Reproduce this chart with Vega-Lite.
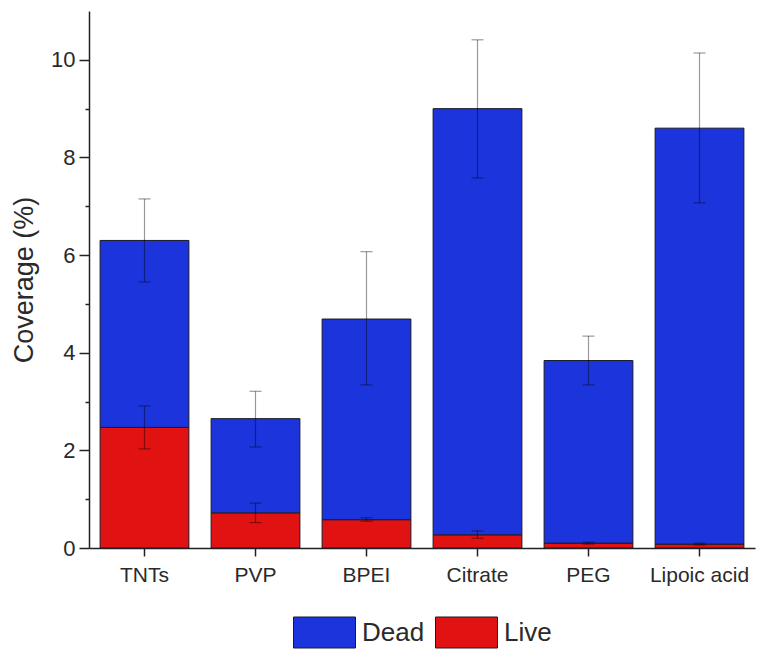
{
  "$schema": "https://vega.github.io/schema/vega-lite/v6.json",
  "width": 666,
  "height": 537,
  "autosize": "none",
  "padding": {"left": 89, "top": 11, "right": 5, "bottom": 105},
  "config": {
    "view": {"stroke": null},
    "font": "Liberation Sans",
    "axis": {"grid": false, "domainColor": "#222", "tickColor": "#222", "labelColor": "#2a2a2a", "titleColor": "#2a2a2a", "labelFont": "Liberation Sans", "titleFont": "Liberation Sans", "domainWidth": 1.5, "tickWidth": 1.5},
    "legend": {"layout": {"bottom": {"anchor": "middle"}}}
  },
  "datasets": {
    "bars": [
      {"sample": "TNTs", "type": "Live", "value": 2.47, "ord": 1},
      {"sample": "TNTs", "type": "Dead", "value": 3.83, "ord": 2},
      {"sample": "PVP", "type": "Live", "value": 0.72, "ord": 1},
      {"sample": "PVP", "type": "Dead", "value": 1.93, "ord": 2},
      {"sample": "BPEI", "type": "Live", "value": 0.58, "ord": 1},
      {"sample": "BPEI", "type": "Dead", "value": 4.11, "ord": 2},
      {"sample": "Citrate", "type": "Live", "value": 0.27, "ord": 1},
      {"sample": "Citrate", "type": "Dead", "value": 8.73, "ord": 2},
      {"sample": "PEG", "type": "Live", "value": 0.1, "ord": 1},
      {"sample": "PEG", "type": "Dead", "value": 3.74, "ord": 2},
      {"sample": "Lipoic acid", "type": "Live", "value": 0.08, "ord": 1},
      {"sample": "Lipoic acid", "type": "Dead", "value": 8.52, "ord": 2}
    ],
    "errs": [
      {"sample": "TNTs", "type": "Live", "lo": 2.03, "hi": 2.91},
      {"sample": "TNTs", "type": "Dead", "lo": 5.45, "hi": 7.15},
      {"sample": "PVP", "type": "Live", "lo": 0.52, "hi": 0.92},
      {"sample": "PVP", "type": "Dead", "lo": 2.07, "hi": 3.21},
      {"sample": "BPEI", "type": "Live", "lo": 0.55, "hi": 0.62},
      {"sample": "BPEI", "type": "Dead", "lo": 3.34, "hi": 6.07},
      {"sample": "Citrate", "type": "Live", "lo": 0.2, "hi": 0.35},
      {"sample": "Citrate", "type": "Dead", "lo": 7.58, "hi": 10.41},
      {"sample": "PEG", "type": "Live", "lo": 0.08, "hi": 0.12},
      {"sample": "PEG", "type": "Dead", "lo": 3.34, "hi": 4.34},
      {"sample": "Lipoic acid", "type": "Live", "lo": 0.06, "hi": 0.1},
      {"sample": "Lipoic acid", "type": "Dead", "lo": 7.07, "hi": 10.14}
    ]
  },
  "layer": [
    {
      "data": {"name": "bars"},
      "mark": {"type": "bar", "stroke": "#1a1a2a", "strokeWidth": 1},
      "encoding": {
        "x": {
          "field": "sample", "type": "nominal",
          "sort": ["TNTs", "PVP", "BPEI", "Citrate", "PEG", "Lipoic acid"],
          "scale": {"paddingInner": 0.2, "paddingOuter": 0.1},
          "axis": {"title": null, "labelAngle": 0, "labelFontSize": 21, "tickSize": 8, "labelPadding": 8}
        },
        "y": {
          "field": "value", "type": "quantitative", "stack": "zero",
          "scale": {"domain": [0, 11], "nice": false},
          "axis": {
            "title": "Coverage (%)", "titleFontSize": 27, "titleFontWeight": "normal", "titlePadding": 12,
            "values": [0, 1, 2, 3, 4, 5, 6, 7, 8, 9, 10],
            "labelExpr": "datum.value % 2 ? '' : datum.label",
            "labelFontSize": 22,
            "tickSize": {"condition": {"test": "datum.value % 2", "value": 4}, "value": 10},
            "labelPadding": 4
          }
        },
        "color": {
          "field": "type", "type": "nominal",
          "scale": {"domain": ["Dead", "Live"], "range": ["#1c34dc", "#e01212"]},
          "legend": {
            "title": null, "orient": "bottom", "direction": "horizontal",
            "labelFontSize": 26, "labelColor": "#2a2a2a", "offset": 16,
            "symbolType": "M-1,-0.5L1,-0.5L1,0.5L-1,0.5Z",
            "symbolSize": 3844, "symbolStrokeColor": "#1a1a2a", "symbolStrokeWidth": 1,
            "symbolOpacity": 1, "columnPadding": 8, "labelOffset": 6
          }
        },
        "order": {"field": "ord", "type": "quantitative"}
      }
    },
    {
      "data": {"name": "errs"},
      "mark": {"type": "rule", "color": "#000", "opacity": 0.4, "strokeWidth": 1.2},
      "encoding": {
        "x": {"field": "sample", "type": "nominal", "sort": ["TNTs", "PVP", "BPEI", "Citrate", "PEG", "Lipoic acid"]},
        "y": {"field": "lo", "type": "quantitative"},
        "y2": {"field": "hi"}
      }
    },
    {
      "data": {"name": "errs"},
      "mark": {"type": "tick", "color": "#000", "opacity": 0.4, "size": 12, "thickness": 1.2},
      "encoding": {
        "x": {"field": "sample", "type": "nominal", "sort": ["TNTs", "PVP", "BPEI", "Citrate", "PEG", "Lipoic acid"]},
        "y": {"field": "hi", "type": "quantitative"}
      }
    },
    {
      "data": {"name": "errs"},
      "mark": {"type": "tick", "color": "#000", "opacity": 0.4, "size": 12, "thickness": 1.2},
      "encoding": {
        "x": {"field": "sample", "type": "nominal", "sort": ["TNTs", "PVP", "BPEI", "Citrate", "PEG", "Lipoic acid"]},
        "y": {"field": "lo", "type": "quantitative"}
      }
    }
  ]
}
